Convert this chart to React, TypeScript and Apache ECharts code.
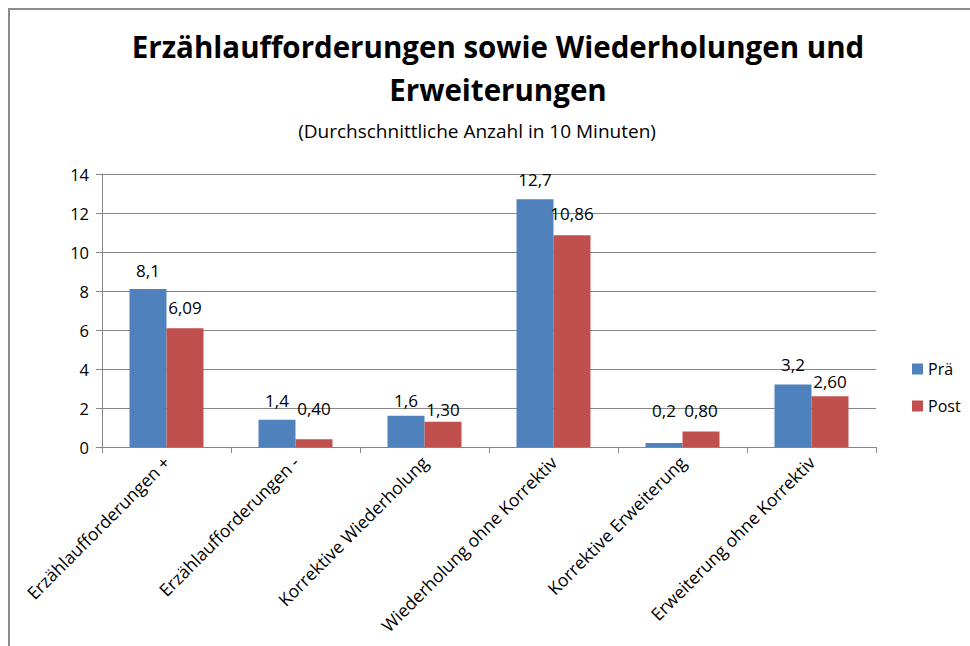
import React, { useEffect, useRef } from "react";
import * as echarts from "echarts";

const categories = [
  "Erzählaufforderungen +",
  "Erzählaufforderungen -",
  "Korrektive Wiederholung",
  "Wiederholung ohne Korrektiv",
  "Korrektive Erweiterung",
  "Erweiterung ohne Korrektiv",
];
const praeValues = [8.1, 1.4, 1.6, 12.7, 0.2, 3.2];
const postValues = [6.09, 0.4, 1.3, 10.86, 0.8, 2.6];
const seriesNames = ["Prä", "Post"];
const yTicks = { min: 0, max: 14, interval: 2 };

// label distances above the bars (style only)
const praeLabelDistance = [10, 11, 7, 11, 24, 12];
const postLabelDistance = [12, 22, 4, 13, 12, 6];

const FONT = "'Open Sans', 'Noto Sans', sans-serif";

export default function App() {
  const ref = useRef<HTMLDivElement>(null);
  useEffect(() => {
    if (!ref.current) return;
    const chart = echarts.init(ref.current, null, { renderer: "svg" });
    chart.setOption({
      animation: false,
      backgroundColor: "#ffffff",
      textStyle: { fontFamily: FONT, color: "#000" },
      title: [
        {
          text: "Erzählaufforderungen sowie Wiederholungen und\nErweiterungen",
          left: 493,
          textAlign: "center",
          top: 20,
          textStyle: { fontSize: 29.5, fontWeight: "bold", color: "#000", lineHeight: 43, fontFamily: FONT },
        },
        {
          text: "(Durchschnittliche Anzahl in 10 Minuten)",
          left: 472,
          textAlign: "center",
          top: 116,
          textStyle: { fontSize: 19, fontWeight: "normal", color: "#000", fontFamily: FONT },
        },
      ],
      legend: {
        orient: "vertical",
        left: 907,
        top: 356,
        itemWidth: 11,
        itemHeight: 11,
        itemGap: 21,
        icon: "rect",
        textStyle: { fontSize: 16, color: "#000", fontFamily: FONT },
        data: seriesNames,
      },
      grid: { left: 102, top: 174, right: 94, bottom: 199, containLabel: false },
      xAxis: {
        type: "category",
        data: categories,
        axisLine: { lineStyle: { color: "#868686" } },
        axisTick: { show: true, length: 6, lineStyle: { color: "#868686" } },
        axisLabel: { rotate: 45, fontSize: 17.5, color: "#000", margin: 12, interval: 0, fontFamily: FONT },
      },
      yAxis: {
        type: "value",
        min: yTicks.min,
        max: yTicks.max,
        interval: yTicks.interval,
        axisLine: { show: true, lineStyle: { color: "#868686" } },
        axisTick: { show: true, length: 6, lineStyle: { color: "#868686" } },
        axisLabel: { fontSize: 16.5, color: "#000", margin: 13, fontFamily: FONT },
        splitLine: { lineStyle: { color: "#868686" } },
      },
      series: [
        {
          name: seriesNames[0],
          type: "bar",
          data: praeValues.map((v, i) => ({ value: v, label: { distance: praeLabelDistance[i] } })),
          barWidth: 37,
          barGap: "0%",
          itemStyle: { color: "#4f81bd" },
          label: {
            show: true,
            position: "top",
            fontSize: 17,
            color: "#000",
            fontFamily: FONT,
            formatter: (p: any) => Number(p.value).toFixed(1).replace(".", ","),
          },
        },
        {
          name: seriesNames[1],
          type: "bar",
          data: postValues.map((v, i) => ({ value: v, label: { distance: postLabelDistance[i] } })),
          barWidth: 37,
          itemStyle: { color: "#c0504d" },
          label: {
            show: true,
            position: "top",
            fontSize: 17,
            color: "#000",
            fontFamily: FONT,
            formatter: (p: any) => Number(p.value).toFixed(2).replace(".", ","),
          },
        },
      ],
      graphic: [
        {
          type: "rect",
          shape: { x: 9, y: 9, width: 1000, height: 700 },
          style: { fill: "none", stroke: "#8c8c8c", lineWidth: 2 },
          silent: true,
        },
      ],
    });
    return () => chart.dispose();
  }, []);
  return (
    <div
      ref={ref}
      style={{ position: "fixed", left: 0, top: 0, width: 970, height: 646 }}
    />
  );
}
